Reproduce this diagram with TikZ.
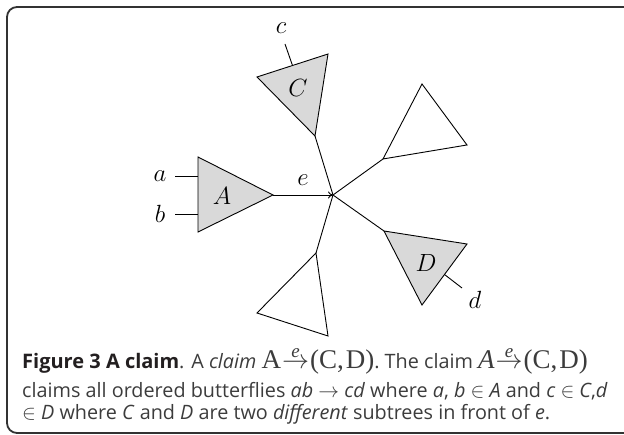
\documentclass[tikz,border=0pt]{standalone}
\usepackage{graphicx}
\usepackage{fontspec}
\setmainfont{Open Sans}
\newfontfamily\timesfont{Liberation Serif}
\usetikzlibrary{arrows.meta,calc}
\definecolor{treegray}{RGB}{217,217,217}
\definecolor{captext}{RGB}{60,60,60}
\definecolor{capbold}{RGB}{35,31,32}
\definecolor{framegray}{RGB}{50,50,50}
\newcommand{\claimsym}[1]{{\fontsize{27}{27}\selectfont\timesfont#1\kern1pt$\mathrel{\mathop{\hbox{\resizebox{27pt}{!}{$\rightarrow$}}}\limits^{\hbox{\fontsize{19}{19}\selectfont\itshape e}}}$\kern1pt(C,\kern2pt D)}}

\begin{document}
\begin{tikzpicture}[x=1pt, y=-1pt,
  tree/.style={draw=black, line width=0.9pt, line join=miter},
  subtree/.style={tree, fill=treegray},
  lbl/.style={inner sep=0pt, font=\fontsize{25}{30}\selectfont},
  capline/.style={anchor=base west, inner sep=0pt, text=captext, font=\fontsize{19.8}{22}\selectfont}]
\useasboundingbox (0,0) rectangle (624,435);
\draw[framegray, line width=1.8pt, rounded corners=10pt] (7,7) rectangle (680,433);
% hub of the butterfly edge
\coordinate (hub) at (333,195);
% subtree A
\coordinate (A1) at (198,157);
\coordinate (A2) at (198,232);
\coordinate (A3) at (273,195);
\filldraw[subtree] (A1) -- (A2) -- (A3) -- cycle;
\node[lbl] (Alab) at (222,196) {$A$};
\coordinate (a0) at (175,176);
\coordinate (b0) at (175,214);
\draw[tree] (a0) -- (a0 -| A1);
\draw[tree] (b0) -- (b0 -| A1);
\node[lbl] (alab) at (160,176) {$a$};
\node[lbl] (blab) at (160,214) {$b$};
% subtree C
\coordinate (C1) at (257,77);
\coordinate (C2) at (328,54);
\coordinate (C3) at (315,136);
\filldraw[subtree] (C1) -- (C2) -- (C3) -- cycle;
\node[lbl] (Clab) at (298,88) {$C$};
\coordinate (c0) at (285,44);
\draw[tree] ($(C1)!0.5!(C2)$) -- (c0);
\node[lbl] (clab) at (281,28) {$c$};
% upper right subtree
\coordinate (U1) at (383,159);
\coordinate (U2) at (422,84);
\coordinate (U3) at (467,145);
\draw[tree] (U1) -- (U2) -- (U3) -- cycle;
% subtree D
\coordinate (D1) at (384,231);
\coordinate (D2) at (467,244);
\coordinate (D3) at (422,305);
\filldraw[subtree] (D1) -- (D2) -- (D3) -- cycle;
\node[lbl] (Dlab) at (426,263) {$D$};
\coordinate (d0) at (462,288);
\draw[tree] ($(D2)!0.5!(D3)$) -- (d0);
\node[lbl] (dlab) at (475,300) {$d$};
% lower subtree
\coordinate (L1) at (316,253);
\coordinate (L2) at (257,313);
\coordinate (L3) at (328,336);
\draw[tree] (L1) -- (L2) -- (L3) -- cycle;
% edges into the hub
\draw[tree] (C3) -- (hub);
\draw[tree] (U1) -- (hub);
\draw[tree] (D1) -- (hub);
\draw[tree] (L1) -- (hub);
\draw[tree, -{To[length=5pt,width=7pt]}] (A3) -- (hub);
\node[lbl] (elab) at (303,180) {$e$};
% caption
\node[capline] (cap1) at (22,369) {{\fontsize{20}{22}\selectfont\bfseries\color{capbold}Figure 3 A claim}. A \textit{claim}
  \claimsym{A}. The claim \claimsym{\itshape A\upshape}};
\node[capline] (cap2) at (22,398) {claims all ordered butterflies \textit{ab} $\rightarrow$ \textit{cd} where \textit{a}, \textit{b} $\in$ \textit{A} and \textit{c} $\in$ \textit{C},\textit{d}};
\node[capline] (cap3) at (22,420) {$\in$ \textit{D} where \textit{C} and \textit{D} are two \textit{different} subtrees in front of \textit{e}.};
\end{tikzpicture}
\end{document}
